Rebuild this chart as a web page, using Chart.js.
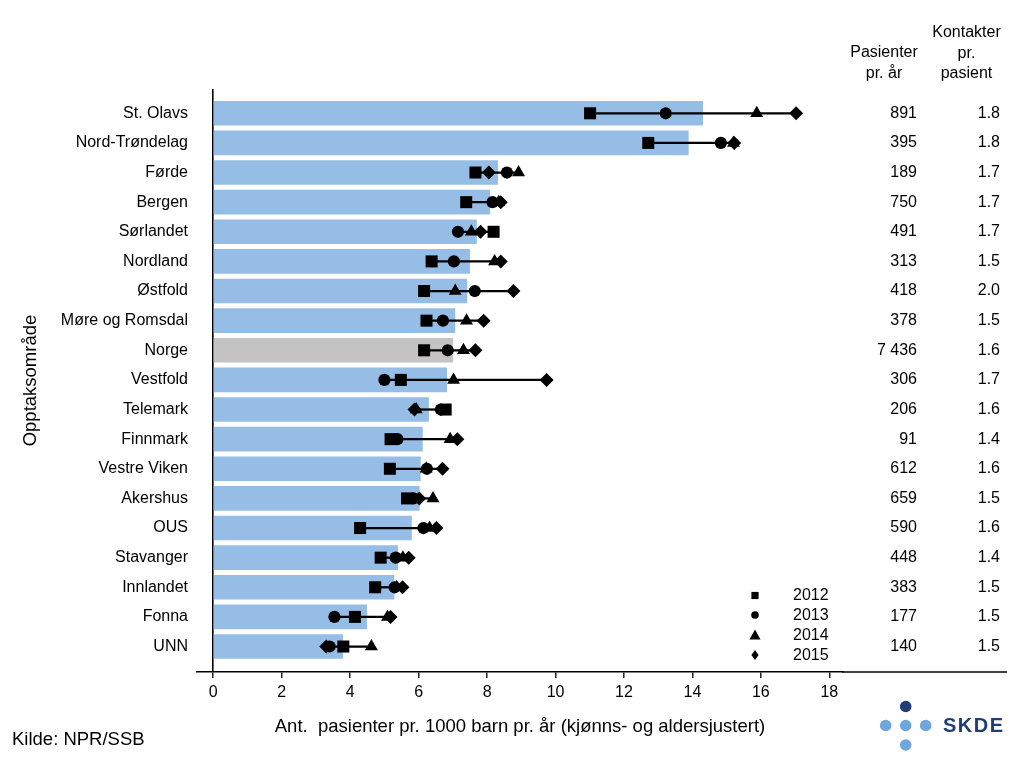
<!DOCTYPE html>
<html>
<head>
<meta charset="utf-8">
<script src="https://cdn.jsdelivr.net/npm/chart.js@4.4.1/dist/chart.umd.min.js"></script>
<style>
  html, body { margin: 0; padding: 0; background: #ffffff; }
  #wrap { width: 1024px; height: 768px; position: relative; }
</style>
</head>
<body>
<div id="wrap"><canvas id="c" width="1024" height="768"></canvas></div>
<script>
// ---------- data ----------
const categories = ["St. Olavs", "Nord-Trøndelag", "Førde", "Bergen", "Sørlandet", "Nordland", "Østfold",
  "Møre og Romsdal", "Norge", "Vestfold", "Telemark", "Finnmark", "Vestre Viken", "Akershus", "OUS",
  "Stavanger", "Innlandet", "Fonna", "UNN"];
const rate   = [14.30, 13.88, 8.31, 8.08, 7.69, 7.49, 7.41, 7.06, 7.00, 6.82, 6.29, 6.11, 6.05, 6.02, 5.79, 5.39, 5.28, 4.48, 3.78];
const y2012  = [11.01, 12.71, 7.66, 7.39, 8.19, 6.38, 6.16, 6.23, 6.16, 5.48, 6.79, 5.18, 5.16, 5.66, 4.29, 4.89, 4.73, 4.14, 3.80];
const y2013  = [13.22, 14.83, 8.58, 8.16, 7.15, 7.03, 7.64, 6.71, 6.85, 5.00, 6.65, 5.38, 6.24, 5.85, 6.14, 5.33, 5.30, 3.54, 3.40];
const y2014  = [15.88, 15.20, 8.92, 8.34, 7.54, 8.22, 7.07, 7.40, 7.31, 7.02, 5.93, 6.92, 6.22, 6.42, 6.32, 5.54, 5.36, 5.09, 4.62];
const y2015  = [17.03, 15.22, 8.05, 8.40, 7.81, 8.40, 8.77, 7.90, 7.66, 9.74, 5.88, 7.13, 6.70, 6.02, 6.52, 5.71, 5.53, 5.18, 3.30];
const patients = ["891", "395", "189", "750", "491", "313", "418", "378", "7 436", "306", "206", "91", "612", "659", "590", "448", "383", "177", "140"];
const contacts = ["1.8", "1.8", "1.7", "1.7", "1.7", "1.5", "2.0", "1.5", "1.6", "1.7", "1.6", "1.4", "1.6", "1.5", "1.6", "1.4", "1.5", "1.5", "1.5"];
const xTicks = [0, 2, 4, 6, 8, 10, 12, 14, 16, 18];
const years = ["2012", "2013", "2014", "2015"];
const xTitle = "Ant.  pasienter pr. 1000 barn pr. år (kjønns- og aldersjustert)";
const yTitle = "Opptaksområde";
const colHeader1 = ["Pasienter", "pr. år"];
const colHeader2 = ["Kontakter", "pr.", "pasient"];
const sourceText = "Kilde: NPR/SSB";

// ---------- styling ----------
const BLUE = "#95bde6";
const GREY = "#c4c4c4";
const FONT = "'Liberation Sans', Arial, Helvetica, sans-serif";
Chart.defaults.font.family = FONT;
Chart.defaults.color = "#000";

const pt = arr => arr.map((v, i) => ({ x: v, y: i }));
const series = [y2012, y2013, y2014, y2015];
const ranges = categories.map((c, i) => {
  const vals = series.map(s => s[i]);
  return { x: [Math.min(...vals), Math.max(...vals)], y: i };
});

const extras = {
  id: "extras",
  afterDraw(chart) {
    const ctx = chart.ctx;
    const ys = chart.scales.y;
    const ca = chart.chartArea;
    ctx.save();
    // extend x-axis baseline under the table columns
    ctx.strokeStyle = "#000";
    ctx.lineWidth = 1.6;
    ctx.beginPath();
    ctx.moveTo(ca.right - 1, ca.bottom);
    ctx.lineTo(1007, ca.bottom);
    ctx.stroke();

    // table headers
    ctx.fillStyle = "#000";
    ctx.font = "16px " + FONT;
    ctx.textAlign = "center";
    ctx.textBaseline = "middle";
    colHeader1.forEach((t, k) => ctx.fillText(t, 884, 53 + k * 20.5));
    colHeader2.forEach((t, k) => ctx.fillText(t, 966.5, 33 + k * 20.5));
    // table values
    ctx.textAlign = "right";
    categories.forEach((c, i) => {
      const y = ys.getPixelForValue(i);
      ctx.fillText(patients[i], 917, y);
      ctx.fillText(contacts[i], 1000, y);
    });

    // legend
    const lx = 755, ly = [595.5, 615, 635, 655];
    ctx.fillStyle = "#000";
    ctx.fillRect(lx - 3.6, ly[0] - 3.6, 7.2, 7.2);
    ctx.beginPath(); ctx.arc(lx, ly[1], 3.8, 0, Math.PI * 2); ctx.fill();
    ctx.beginPath();
    ctx.moveTo(lx, ly[2] - 5.5); ctx.lineTo(lx + 5.5, ly[2] + 4.5); ctx.lineTo(lx - 5.5, ly[2] + 4.5);
    ctx.closePath(); ctx.fill();
    ctx.beginPath();
    ctx.moveTo(lx, ly[3] - 5); ctx.lineTo(lx + 3.6, ly[3]); ctx.lineTo(lx, ly[3] + 5); ctx.lineTo(lx - 3.6, ly[3]);
    ctx.closePath(); ctx.fill();
    ctx.textAlign = "left";
    ctx.font = "16px " + FONT;
    years.forEach((t, k) => ctx.fillText(t, 793, ly[k] + 0.5));

    // source
    ctx.font = "18.5px " + FONT;
    ctx.fillText(sourceText, 12, 740);

    // logo
    const dark = "#1f3e78", light = "#6fa7dc";
    const dot = (x, y, col) => { ctx.fillStyle = col; ctx.beginPath(); ctx.arc(x, y, 5.8, 0, Math.PI * 2); ctx.fill(); };
    dot(905.7, 706.5, dark);
    dot(885.7, 725.5, light);
    dot(905.7, 725.5, light);
    dot(925.7, 725.5, light);
    dot(905.7, 745, light);
    ctx.fillStyle = dark;
    ctx.font = "bold 20px " + FONT;
    ctx.textAlign = "left";
    if ("letterSpacing" in ctx) ctx.letterSpacing = "1.5px";
    ctx.fillText("SKDE", 943, 726);
    ctx.restore();
  }
};

new Chart(document.getElementById("c"), {
  type: "bar",
  data: {
    labels: categories,
    datasets: [
      { type: "scatter", label: years[3], data: pt(y2015), pointStyle: "rectRot", pointRadius: 7, pointHoverRadius: 7,
        pointBackgroundColor: "#000", pointBorderWidth: 0, order: 0 },
      { type: "scatter", label: years[2], data: pt(y2014), pointStyle: "triangle", pointRadius: 7.5, pointHoverRadius: 7.5,
        pointBackgroundColor: "#000", pointBorderWidth: 0, order: 1 },
      { type: "scatter", label: years[1], data: pt(y2013), pointStyle: "circle", pointRadius: 6.1, pointHoverRadius: 6.1,
        pointBackgroundColor: "#000", pointBorderWidth: 0, order: 2 },
      { type: "scatter", label: years[0], data: pt(y2012), pointStyle: "rect", pointRadius: 8.5, pointHoverRadius: 8.5,
        pointBackgroundColor: "#000", pointBorderWidth: 0, order: 3 },
      { type: "bar", label: "range", data: ranges, backgroundColor: "#000", barThickness: 1.6, grouped: false, order: 4 },
      { type: "bar", label: "rate", data: pt(rate), backgroundColor: categories.map(c => c === "Norge" ? GREY : BLUE),
        barThickness: 24, grouped: false, borderWidth: 0, order: 5 }
    ]
  },
  options: {
    indexAxis: "y",
    responsive: false,
    devicePixelRatio: 1,
    animation: false,
    events: [],
    layout: { padding: { top: 89, right: 181, bottom: 0, left: 0 } },
    plugins: { legend: { display: false }, tooltip: { enabled: false } },
    scales: {
      x: {
        type: "linear", position: "bottom", bounds: "data", min: -0.476, max: 18.40, offset: false, z: 1,
        afterBuildTicks: s => { s.ticks = xTicks.map(v => ({ value: v })); },
        afterFit: s => { s.height = 96; },
        grid: {
          offset: false, drawOnChartArea: true, drawTicks: true, tickLength: 6, tickWidth: 1.3, tickColor: "#000", lineWidth: 1.6,
          color: c => (c.tick && c.tick.value === 0) ? "#000" : "rgba(0,0,0,0)"
        },
        border: { display: true, color: "#000", width: 1.6 },
        ticks: { color: "#000", font: { size: 16 }, padding: 5, maxRotation: 0, autoSkip: false },
        title: { display: true, text: xTitle, color: "#000", font: { size: 18.5 }, padding: { top: 0, bottom: 30 } }
      },
      y: {
        type: "linear", position: "left", reverse: true, bounds: "data", min: -0.82, max: 18.86, offset: false,
        afterBuildTicks: s => { s.ticks = categories.map((c, i) => ({ value: i })); },
        afterFit: s => { s.width = 197; },
        grid: { display: false, drawTicks: false, offset: false },
        border: { display: false },
        ticks: { color: "#000", font: { size: 16 }, padding: 9, autoSkip: false, callback: v => categories[v] },
        title: { display: true, text: yTitle, color: "#000", font: { size: 18.5 }, padding: { top: 20, bottom: 0 } }
      }
    }
  },
  plugins: [extras]
});
</script>
</body>
</html>
